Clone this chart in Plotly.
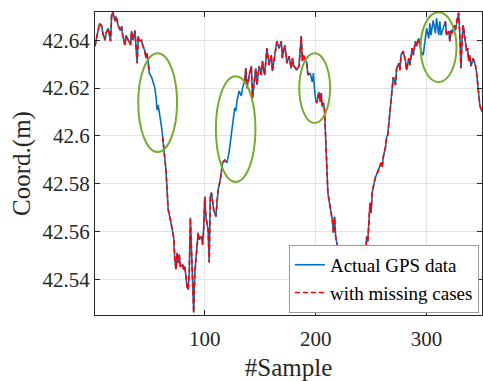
import plotly.graph_objects as go

samples = [1,2,5,7,8,10,11,13,15,16,17,19,20,22,24,25,26,28,29,31,33,34,35,37,38,39,40,41,43,44,46,47,48,49,50,
           52,53,55,56,57,58,59,60,61,62,63,64,65,66,67,69,71,72,73,74,75,76,77,78,80,81,82,84,85,86,87,88,89,90,
           91,92,93,94,95,97,98,99,100,101,103,104,105,106,108,110,111,112,114,115,116,118,120,122,123,125,127,128,
           129,131,133,134,136,137,138,140,142,143,145,146,147,149,151,152,154,155,156,158,160,161,163,164,165,167,
           169,170,172,173,174,176,178,179,180,182,183,185,187,188,189,190,192,193,195,197,198,199,200,201,202,203,
           204,205,206,207,208,209,210,211,213,214,215,216,217,218,219,220,222,224,226,228,230,232,233,234,236,238,
           240,241,243,244,245,246,247,248,249,250,251,252,253,254,256,258,259,260,261,263,264,265,267,268,269,270,
           272,273,275,276,277,279,281,282,284,285,287,288,290,291,293,294,295,297,299,300,302,303,304,306,308,309,
           311,312,313,315,317,318,320,321,322,323,325,326,328,329,330,331,332,333,335,336,337,338,339,340,342,344,
           345,346,348,350]

actual_gps = [42.6375,42.6400,42.6470,42.6460,42.6430,42.6400,42.6430,42.6450,42.6396,42.6504,42.6517,42.6480,42.6500,
              42.6460,42.6440,42.6458,42.6420,42.6380,42.6420,42.6400,42.6380,42.6438,42.6400,42.6440,42.6367,42.6304,
              42.6417,42.6396,42.6400,42.6380,42.6354,42.6325,42.6345,42.6308,42.6262,
              42.6246,42.6233,42.6200,42.6163,42.6108,42.6129,42.6100,42.6075,42.6038,42.5996,42.5954,42.5913,42.5858,
              42.5775,42.5692,42.5650,42.5596,42.5575,42.5483,42.5442,42.5513,42.5471,42.5504,42.5454,42.5463,42.5442,
              42.5454,42.5371,42.5358,42.5429,42.5658,42.5513,42.5413,42.5262,
              42.5429,42.5471,42.5538,42.5596,42.5567,42.5580,42.5546,42.5608,42.5746,42.5663,42.5608,42.5471,42.5746,
              42.5763,42.5692,42.5663,42.5721,42.5775,42.5817,42.5846,42.5888,42.5900,42.5888,42.5935,42.5970,42.6063,
              42.6117,42.6104,
              42.6146,42.6188,42.6167,42.6200,42.6229,42.6283,42.6200,42.6254,42.6292,42.6158,42.6242,42.6283,42.6213,
              42.6292,42.6254,42.6313,42.6254,42.6325,42.6367,42.6296,42.6338,42.6271,42.6325,42.6354,42.6396,42.6367,
              42.6396,42.6325,42.6379,42.6354,42.6304,42.6333,42.6283,42.6325,42.6296,42.6283,42.6275,42.6292,42.6417,
              42.6313,42.6338,42.6325,42.6304,42.6254,42.6263,42.6225,42.6263,42.6192,42.6150,42.6138,42.6171,42.6183,
              42.6142,42.6179,42.6121,42.6138,42.6108,42.5983,42.5846,42.5763,42.5704,42.5679,42.5650,42.5596,42.5663,
              42.5580,42.5554,42.5525,42.5483,42.5440,42.5415,42.5390,42.5405,42.5445,42.5483,42.5492,42.5475,42.5517,
              42.5525,42.5504,42.5480,42.5475,42.5513,42.5580,42.5558,42.5650,42.5721,42.5679,42.5763,42.5788,42.5817,
              42.5829,42.5850,42.5871,42.5888,42.5871,42.5913,42.5954,42.5996,42.6004,42.6096,42.6150,42.6204,42.6246,
              42.6213,42.6283,42.6304,42.6275,42.6338,42.6354,42.6313,42.6275,42.6325,42.6296,42.6367,42.6338,42.6396,
              42.6375,42.6408,42.6379,42.6354,42.6338,42.6421,42.6450,42.6408,42.6471,42.6421,42.6483,42.6429,42.6492,
              42.6421,42.6479,42.6421,42.6450,42.6479,42.6421,42.6438,42.6396,42.6442,42.6429,42.6463,42.6442,42.6504,
              42.6515,42.6421,42.6283,42.6396,42.6463,42.6396,42.6354,42.6367,42.6313,42.6338,42.6292,42.6325,42.6296,
              42.6271,42.6213,42.6129,42.6100]

# sample ranges where data are missing (red series absent)
missing_ranges = [(51, 61), (119, 135), (194, 199), (294, 316)]

with_missing = [None if any(a <= s <= b for a, b in missing_ranges) else v
                for s, v in zip(samples, actual_gps)]

# highlighted ellipses: (x0, x1, y0, y1) in data units
ellipses = [(40, 75, 42.5933, 42.6346), (110, 145.7, 42.5808, 42.625),
            (185.2, 213, 42.6054, 42.6346), (294.6, 327, 42.6225, 42.6517)]

y_ticks = [42.54, 42.56, 42.58, 42.60, 42.62, 42.64]
y_tick_text = ["42.54", "42.56", "42.58", "42.6", "42.62", "42.64"]
x_ticks = [100, 200, 300]

font_family = "Liberation Serif"
axis_color = "#262626"

fig = go.Figure()
fig.add_trace(go.Scatter(x=samples, y=actual_gps, mode="lines", name="Actual GPS data",
                         line=dict(color="#0072BD", width=1.6)))
fig.add_trace(go.Scatter(x=samples, y=with_missing, mode="lines", name="with missing cases",
                         line=dict(color="#FF0000", width=1.6, dash="5px,3px"), connectgaps=False))

for x0, x1, y0, y1 in ellipses:
    fig.add_shape(type="circle", xref="x", yref="y", x0=x0, x1=x1, y0=y0, y1=y1,
                  line=dict(color="#77AC30", width=2), layer="above")

fig.update_layout(
    width=483, height=381,
    margin=dict(l=95, r=1, t=12, b=66, autoexpand=False),
    paper_bgcolor="white", plot_bgcolor="white",
    font=dict(family=font_family, size=21, color=axis_color),
    showlegend=True,
    legend=dict(x=0.992, y=0.007, xanchor="right", yanchor="bottom",
                bgcolor="white", bordercolor="#9a9a9a", borderwidth=1,
                font=dict(family=font_family, size=19, color="#000000"),
                tracegroupgap=0, itemwidth=30),
)
fig.update_xaxes(range=[1, 350], tickvals=x_ticks, showgrid=True, gridcolor="#e3e3e3",
                 showline=True, linecolor=axis_color, linewidth=1, mirror="ticks",
                 ticks="inside", ticklen=5, tickcolor=axis_color, zeroline=False, automargin=False,
                 ticklabelstandoff=5,
                 title=dict(text="#Sample", font=dict(size=25), standoff=10))
fig.update_yaxes(range=[42.5252, 42.6518], tickvals=y_ticks, ticktext=y_tick_text,
                 showgrid=True, gridcolor="#e3e3e3",
                 showline=True, linecolor=axis_color, linewidth=1, mirror="ticks",
                 ticks="inside", ticklen=5, tickcolor=axis_color, zeroline=False, automargin=False,
                 title=dict(text="Coord.(m)", font=dict(size=25), standoff=4))

fig.write_html("out.html", config={"displayModeBar": False},
               post_script="document.body.style.margin='0';document.body.style.overflow='hidden';")
